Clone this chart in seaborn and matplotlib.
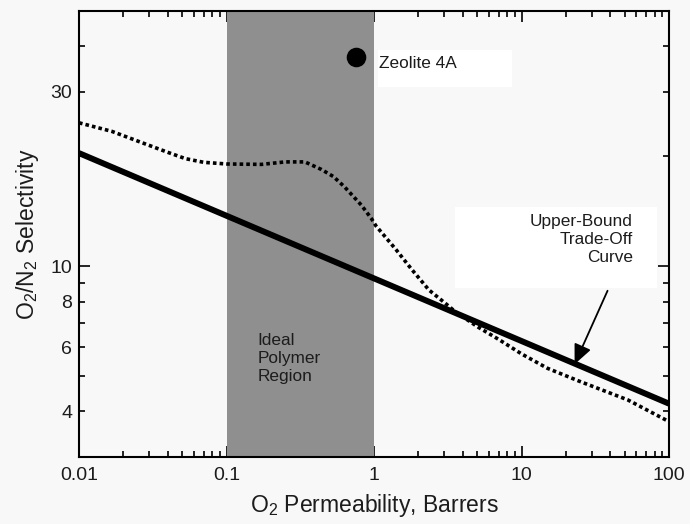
import matplotlib
matplotlib.use("Agg")
import matplotlib.pyplot as plt
from matplotlib.ticker import FixedLocator, FuncFormatter, NullFormatter
from matplotlib.patches import Rectangle
import numpy as np
import pandas as pd
import seaborn as sns

# ---- data ----
ub_perm = [0.01, 100]
ub_sel = [20.4, 4.2]

dot_perm = [0.01, 0.0167, 0.0283, 0.04, 0.0527, 0.07, 0.1, 0.173, 0.25, 0.34, 0.44,
            0.53, 0.63, 0.82, 0.96, 1.03, 1.41, 1.8, 2.36, 3.0, 3.56, 5.1, 7.0,
            10.0, 15.0, 24.3, 52.6, 100]
dot_sel = [24.7, 23.4, 21.6, 20.5, 19.7, 19.25, 19.05, 19.0, 19.3, 19.3, 18.4,
           17.6, 16.5, 14.7, 13.5, 12.9, 11.1, 9.8, 8.6, 7.95, 7.5, 6.8, 6.3,
           5.75, 5.25, 4.85, 4.3, 3.75]

zeolite_perm = [0.755]
zeolite_sel = [37.4]

region = [0.1, 1.0]
x_labels = {0.01: '0.01', 0.1: '0.1', 1: '1', 10: '10', 100: '100'}
y_labels = {4: "4", 6: "6", 8: "8", 10: "10", 30: "30"}

sns.set_theme(style="ticks")
plt.rcParams['font.family'] = ['Liberation Sans', 'DejaVu Sans']
plt.rcParams['mathtext.fontset'] = 'custom'
plt.rcParams['mathtext.rm'] = 'Liberation Sans'
plt.rcParams['mathtext.it'] = 'Liberation Sans'

bg = '#f8f8f8'
txt = '#1c1c1c'
W, H = 690, 524
fig = plt.figure(figsize=(6.9, 5.24), dpi=100, facecolor=bg)
ax = fig.add_axes([79/W, 67/H, 590/W, 446/H])
ax.set_facecolor(bg)
ax.set_xscale('log')
ax.set_yscale('log')
ax.set_xlim(0.01, 100)
ax.set_ylim(3, 50)

ax.axvspan(region[0], region[1], color='#8f8f8f', lw=0, zorder=1)

# white label boxes (figure-pixel layout), drawn inside the axes below the text
for (x0, y0, x1, y1) in [(378, 50, 512, 87), (455, 207, 657, 288)]:
    ax.add_patch(Rectangle((x0/W, 1 - y1/H), (x1-x0)/W, (y1-y0)/H,
                           transform=fig.transFigure, fc='white', ec='none',
                           zorder=1.5, clip_on=False))

df_ub = pd.DataFrame({'P': ub_perm, 'S': ub_sel})
sns.lineplot(data=df_ub, x='P', y='S', ax=ax, color='black', lw=4.3,
             estimator=None, sort=False, zorder=3, solid_capstyle='butt')
df_dot = pd.DataFrame({'P': dot_perm, 'S': dot_sel})
sns.lineplot(data=df_dot, x='P', y='S', ax=ax, color='black', lw=2.6,
             estimator=None, sort=False, zorder=3, linestyle=(0, (1.0, 0.85)),
             dash_capstyle='butt')
df_z = pd.DataFrame({'P': zeolite_perm, 'S': zeolite_sel})
sns.scatterplot(data=df_z, x='P', y='S', ax=ax, color='black', s=170,
                edgecolor='black', zorder=4)

# ticks
ax.xaxis.set_major_locator(FixedLocator(list(x_labels.keys())))
ax.xaxis.set_major_formatter(FuncFormatter(lambda v, p: x_labels.get(round(v, 4), '')))
minors = [m * 10.0**e for e in range(-2, 2) for m in range(2, 10)]
ax.xaxis.set_minor_locator(FixedLocator(minors))
ax.xaxis.set_minor_formatter(NullFormatter())

ax.yaxis.set_major_locator(FixedLocator([10]))
ax.yaxis.set_major_formatter(FuncFormatter(lambda v, p: '10'))
ax.yaxis.set_minor_locator(FixedLocator([3, 4, 5, 6, 7, 8, 9, 20, 30, 40, 50]))
ax.yaxis.set_minor_formatter(FuncFormatter(lambda v, p: y_labels.get(int(round(v)), '')))

ax.tick_params(which='both', direction='in', top=True, right=True, color='black',
               width=1.2, labelsize=14, labelcolor=txt)
ax.tick_params(axis='x', which='both', pad=7)
ax.tick_params(axis='y', which='both', pad=5)
ax.tick_params(which='major', length=8)
ax.tick_params(which='minor', length=4)
for s in ax.spines.values():
    s.set_color('black')
    s.set_linewidth(1.5)
    s.set_zorder(5)

ax.set_xlabel('O$_2$ Permeability, Barrers', fontsize=16.5, color=txt, labelpad=6)
ax.set_ylabel('O$_2$/N$_2$ Selectivity', fontsize=16.5, color=txt, labelpad=7)

# annotations
ax.text(1.08, 35.8, 'Zeolite 4A', fontsize=12.4, color=txt, va='center', ha='left', zorder=2)
ax.text(0.162, 6.55, 'Ideal\nPolymer\nRegion', fontsize=12.4, color=txt, va='top', ha='left',
        linespacing=1.25, zorder=2)
ax.text(57, 13.9, 'Upper-Bound\nTrade-Off\nCurve', fontsize=12.4, color=txt, va='top', ha='right',
        linespacing=1.25, zorder=2)
ax.annotate('', xy=(22.5, 5.3), xytext=(39, 8.7),
            arrowprops=dict(arrowstyle='-|>,head_length=1.0,head_width=0.45', color='black', lw=1.3),
            zorder=4)

fig.savefig('out.png', dpi=100, facecolor=bg)
